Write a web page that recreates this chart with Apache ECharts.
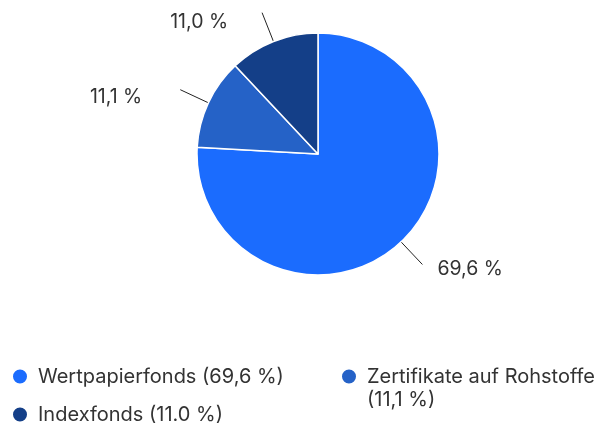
<!DOCTYPE html>
<html>
<head>
<meta charset="utf-8">
<script src="https://cdn.jsdelivr.net/npm/echarts@6/dist/echarts.min.js"></script>
<style>
  html, body { margin: 0; padding: 0; background: #fff; }
  #chart { width: 616px; height: 423px; }
</style>
</head>
<body>
<div id="chart"></div>
<script>
// Anteile je Fondsart
var names = ['Wertpapierfonds', 'Zertifikate auf Rohstoffe', 'Indexfonds'];
var values = [69.6, 11.1, 11.0];
var sliceLabels = ['69,6 %', '11,1 %', '11,0 %'];
// führender Umbruch: erste Zeile soll auf Höhe des Kreises stehen
var legendLabels = ['Wertpapierfonds (69,6 %)', '\nZertifikate auf Rohstoffe\n(11,1 %)', 'Indexfonds (11.0 %)'];

var colors = ['#1b6cfe', '#2562c7', '#143f88'];
var labelGaps = [15, 38, 34];
// Label etwas unterhalb vom Linienende (über leere erste Zeile)
var labelShift = [10, 14, 18];
var fontFamily = 'Inter, "Noto Sans", sans-serif';

var myChart = echarts.init(document.getElementById('chart'));

var pieData = [];
for (var i = 0; i < names.length; i++) {
  pieData.push({
    name: names[i],
    value: values[i],
    itemStyle: { color: colors[i] },
    label: { distanceToLabelLine: labelGaps[i], lineHeight: labelShift[i] }
  });
}

// eine Legende pro Eintrag, damit die Positionen frei sind
function makeLegend(idx, left, top) {
  return {
    data: [names[idx]],
    left: left,
    top: top,
    padding: 0,
    orient: 'horizontal',
    icon: 'circle',
    itemWidth: 16,
    itemHeight: 16,
    selectedMode: false,
    formatter: function () { return legendLabels[idx]; },
    textStyle: {
      color: '#333',
      fontSize: 20,
      fontFamily: fontFamily,
      lineHeight: 23,
      padding: [0, 0, 0, 5]
    }
  };
}

var option = {
  animation: false,
  legend: [
    makeLegend(0, 11, 365),
    makeLegend(1, 340, 342),
    makeLegend(2, 11, 403)
  ],
  series: [{
    type: 'pie',
    center: [318, 154],
    radius: 121,
    startAngle: 90,
    clockwise: true,
    avoidLabelOverlap: false,
    itemStyle: {
      borderColor: '#fff',
      borderWidth: 1.5
    },
    label: {
      show: true,
      color: '#333',
      fontSize: 19.5,
      fontFamily: fontFamily,
      formatter: function (p) { return '\n' + sliceLabels[p.dataIndex]; }
    },
    labelLine: {
      show: true,
      length: 31,
      length2: 0,
      lineStyle: { color: '#222', width: 1 }
    },
    data: pieData
  }]
};

myChart.setOption(option);
</script>
</body>
</html>
